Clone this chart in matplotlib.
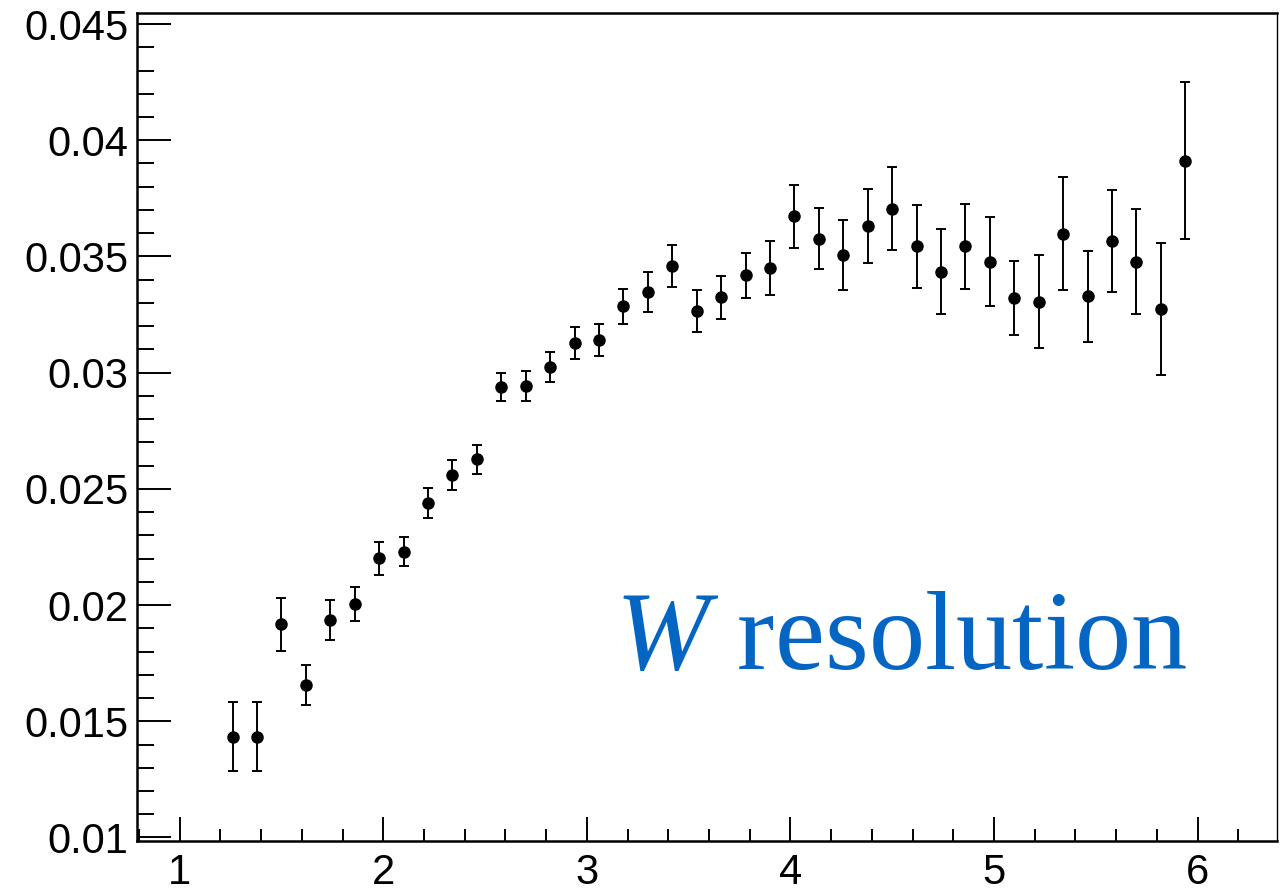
import matplotlib.pyplot as plt
from matplotlib.ticker import MultipleLocator, FuncFormatter
import numpy as np

plt.rcParams['mathtext.fontset'] = 'custom'
plt.rcParams['mathtext.it'] = 'Liberation Serif:italic'
plt.rcParams['mathtext.rm'] = 'Liberation Serif'

# bin centres (width 0.12 from 1.2 to 6.0)
x_centres = [1.26, 1.38, 1.50, 1.62, 1.74, 1.86, 1.98, 2.10, 2.22, 2.34,
             2.46, 2.58, 2.70, 2.82, 2.94, 3.06, 3.18, 3.30, 3.42, 3.54,
             3.66, 3.78, 3.90, 4.02, 4.14, 4.26, 4.38, 4.50, 4.62, 4.74,
             4.86, 4.98, 5.10, 5.22, 5.34, 5.46, 5.58, 5.70, 5.82, 5.94]

resolution = [0.01433, 0.01433, 0.01917, 0.01655, 0.01935, 0.02004, 0.02201, 0.02229, 0.02439, 0.02559,
              0.02627, 0.02939, 0.02943, 0.03023, 0.03127, 0.03141, 0.03286, 0.03348, 0.03460, 0.03266,
              0.03324, 0.03419, 0.03449, 0.03672, 0.03576, 0.03506, 0.03632, 0.03705, 0.03543, 0.03434,
              0.03543, 0.03477, 0.03322, 0.03305, 0.03598, 0.03328, 0.03567, 0.03477, 0.03274, 0.03912]

res_err = [0.00149, 0.00148, 0.00115, 0.00085, 0.00086, 0.00073, 0.00071, 0.00063, 0.00065, 0.00065,
           0.00062, 0.00060, 0.00064, 0.00064, 0.00068, 0.00068, 0.00076, 0.00085, 0.00090, 0.00090,
           0.00092, 0.00097, 0.00117, 0.00134, 0.00131, 0.00151, 0.00160, 0.00179, 0.00179, 0.00182,
           0.00183, 0.00192, 0.00159, 0.00201, 0.00242, 0.00195, 0.00219, 0.00226, 0.00283, 0.00339]

fig = plt.figure(figsize=(12.8, 8.9), dpi=100)
ax = fig.add_axes([0.107, 0.0551, 0.8906, 0.9299])

ax.errorbar(x_centres, resolution, yerr=res_err, fmt='o', color='black',
            markersize=8, elinewidth=1.4, capsize=3.5, capthick=1.4)

ax.set_xlim(0.79, 6.39)
ax.set_ylim(0.00985, 0.04546)

ax.xaxis.set_major_locator(MultipleLocator(1))
ax.xaxis.set_minor_locator(MultipleLocator(0.2))
ax.yaxis.set_major_locator(MultipleLocator(0.005))
ax.yaxis.set_minor_locator(MultipleLocator(0.001))
ax.yaxis.set_major_formatter(FuncFormatter(lambda v, p: ('%.3f' % v).rstrip('0')))

ax.tick_params(axis='both', which='both', direction='in', top=False, right=False,
               width=1.4, labelsize=30, colors='black')
ax.tick_params(axis='y', which='major', length=24.5, pad=6)
ax.tick_params(axis='y', which='minor', length=12.2)
ax.tick_params(axis='x', which='major', length=17.3, pad=9)
ax.tick_params(axis='x', which='minor', length=8.6)
for lbl in ax.get_xticklabels() + ax.get_yticklabels():
    lbl.set_family(['Liberation Sans', 'DejaVu Sans'])

for side in ['left', 'bottom', 'top']:
    ax.spines[side].set_linewidth(1.8)
ax.spines['right'].set_linewidth(1.0)

ax.text(0.4195, 0.208, r'$\mathit{W}$ resolution', transform=ax.transAxes,
        fontsize=81, color='#0565c2', family='Liberation Serif',
        ha='left', va='baseline')

fig.savefig('out.png', dpi=100)
